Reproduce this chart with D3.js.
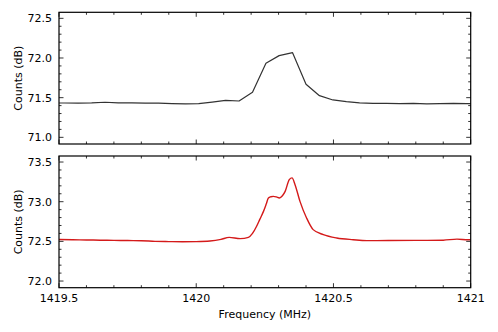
<!DOCTYPE html>
<html lang="en">
<head>
<meta charset="utf-8">
<title>Counts vs frequency</title>
<script src="https://d3js.org/d3.v7.min.js"></script>
<style>
  body { margin: 0; background: #fff; }
  text { font-family: "DejaVu Sans", sans-serif; fill: #000; }
</style>
</head>
<body>
<script>
// top panel: coarse spectrum
var topFreq = [1419.472, 1419.521, 1419.570, 1419.619, 1419.668, 1419.716, 1419.765, 1419.814,
               1419.863, 1419.912, 1419.961, 1420.009, 1420.058, 1420.107, 1420.156, 1420.205,
               1420.254, 1420.302, 1420.351, 1420.400, 1420.449, 1420.498, 1420.547, 1420.595,
               1420.644, 1420.693, 1420.742, 1420.791, 1420.840, 1420.888, 1420.937, 1420.986, 1421.035];
var topCounts = [71.432, 71.433, 71.432, 71.435, 71.442, 71.435, 71.435, 71.432,
                 71.430, 71.425, 71.423, 71.425, 71.445, 71.465, 71.458, 71.568,
                 71.934, 72.030, 72.067, 71.669, 71.525, 71.471, 71.450, 71.435,
                 71.428, 71.428, 71.425, 71.428, 71.422, 71.425, 71.428, 71.425, 71.425];

// bottom panel: fine spectrum
var botFreq = [1419.48, 1419.50, 1419.55, 1419.60, 1419.65, 1419.70, 1419.75, 1419.80, 1419.85,
               1419.90, 1419.95, 1420.00, 1420.05, 1420.09, 1420.12, 1420.16, 1420.19, 1420.205,
               1420.22, 1420.232, 1420.245, 1420.255, 1420.263, 1420.272, 1420.281, 1420.292,
               1420.303, 1420.314, 1420.324, 1420.339, 1420.349, 1420.36, 1420.378, 1420.402,
               1420.426, 1420.463, 1420.512, 1420.572, 1420.621, 1420.70, 1420.80, 1420.90,
               1420.95, 1420.99, 1421.02];
var botCounts = [72.525, 72.523, 72.520, 72.518, 72.515, 72.513, 72.510, 72.508, 72.500,
                 72.497, 72.495, 72.497, 72.505, 72.525, 72.550, 72.534, 72.550, 72.600,
                 72.690, 72.780, 72.878, 72.970, 73.047, 73.062, 73.067, 73.060,
                 73.047, 73.075, 73.130, 73.278, 73.300, 73.215, 73.004, 72.795,
                 72.648, 72.585, 72.543, 72.521, 72.509, 72.510, 72.512, 72.515,
                 72.528, 72.520, 72.520];

var xTicks = [1419.5, 1420, 1420.5, 1421];
var xTickLabels = ["1419.5", "1420", "1420.5", "1421"];
var topYTicks = [71.0, 71.5, 72.0, 72.5];
var botYTicks = [72.0, 72.5, 73.0, 73.5];

var w = 498, h = 332;
var left = 59, right = 470.7;

var svg = d3.select("body").append("svg")
  .attr("width", w).attr("height", h);

var x = d3.scaleLinear().domain([1419.5, 1421]).range([left, right]);

function minorTicks(a, b, step) {
  var out = [];
  for (var v = a; v <= b + 1e-9; v += step) out.push(+v.toFixed(3));
  return out;
}

function panel(top, bottom, ydom, yTicks, freq, counts, color, lw, showX) {
  var y = d3.scaleLinear().domain(ydom).range([bottom, top]);
  var g = svg.append("g");

  g.append("clipPath").attr("id", "clip" + top)
    .append("rect").attr("x", left).attr("y", top)
    .attr("width", right - left).attr("height", bottom - top);

  var line = d3.line()
    .x(function(d) { return x(d[0]); })
    .y(function(d) { return y(d[1]); })
    .curve(showX ? d3.curveMonotoneX : d3.curveLinear);

  g.append("path")
    .datum(d3.zip(freq, counts))
    .attr("clip-path", "url(#clip" + top + ")")
    .attr("fill", "none")
    .attr("stroke", color)
    .attr("stroke-width", lw)
    .attr("stroke-linejoin", "round")
    .attr("d", line);

  // ticks pointing inwards on all four sides
  var xMinor = minorTicks(1419.5, 1421, 0.1);
  var yMinor = minorTicks(Math.ceil(ydom[0] * 10) / 10, ydom[1], 0.1);
  var ticks = g.append("g").attr("stroke", "#000").attr("stroke-width", 0.8);
  xMinor.forEach(function(v) {
    var major = xTicks.some(function(t) { return Math.abs(t - v) < 1e-6; });
    var len = major ? 4.5 : 2.5;
    ticks.append("line").attr("x1", x(v)).attr("x2", x(v)).attr("y1", bottom).attr("y2", bottom - len);
    ticks.append("line").attr("x1", x(v)).attr("x2", x(v)).attr("y1", top).attr("y2", top + len);
  });
  yMinor.forEach(function(v) {
    var major = yTicks.some(function(t) { return Math.abs(t - v) < 1e-6; });
    var len = major ? 4.5 : 2.5;
    ticks.append("line").attr("x1", left).attr("x2", left + len).attr("y1", y(v)).attr("y2", y(v));
    ticks.append("line").attr("x1", right).attr("x2", right - len).attr("y1", y(v)).attr("y2", y(v));
  });

  g.append("rect")
    .attr("x", left).attr("y", top)
    .attr("width", right - left).attr("height", bottom - top)
    .attr("fill", "none").attr("stroke", "#000").attr("stroke-width", 1.2);

  g.selectAll(".ylab").data(yTicks).enter().append("text")
    .attr("x", left - 7).attr("y", function(d) { return y(d) + 4; })
    .attr("text-anchor", "end").attr("font-size", "11px")
    .text(function(d) { return d.toFixed(1); });

  g.append("text")
    .attr("transform", "translate(22," + ((top + bottom) / 2) + ") rotate(-90)")
    .attr("text-anchor", "middle").attr("font-size", "11px")
    .text("Counts (dB)");

  if (showX) {
    g.selectAll(".xlab").data(xTicks).enter().append("text")
      .attr("x", function(d) { return x(d); }).attr("y", bottom + 14)
      .attr("text-anchor", "middle").attr("font-size", "11px")
      .text(function(d, i) { return xTickLabels[i]; });
  }
}

panel(12.3, 144, [70.916, 72.576], topYTicks, topFreq, topCounts, "#333333", 1.2, false);
panel(156, 287.7, [71.916, 73.576], botYTicks, botFreq, botCounts, "#d41a1a", 1.4, true);

svg.append("text")
  .attr("x", (left + right) / 2).attr("y", 318)
  .attr("text-anchor", "middle").attr("font-size", "11px")
  .text("Frequency (MHz)");
</script>
</body>
</html>
